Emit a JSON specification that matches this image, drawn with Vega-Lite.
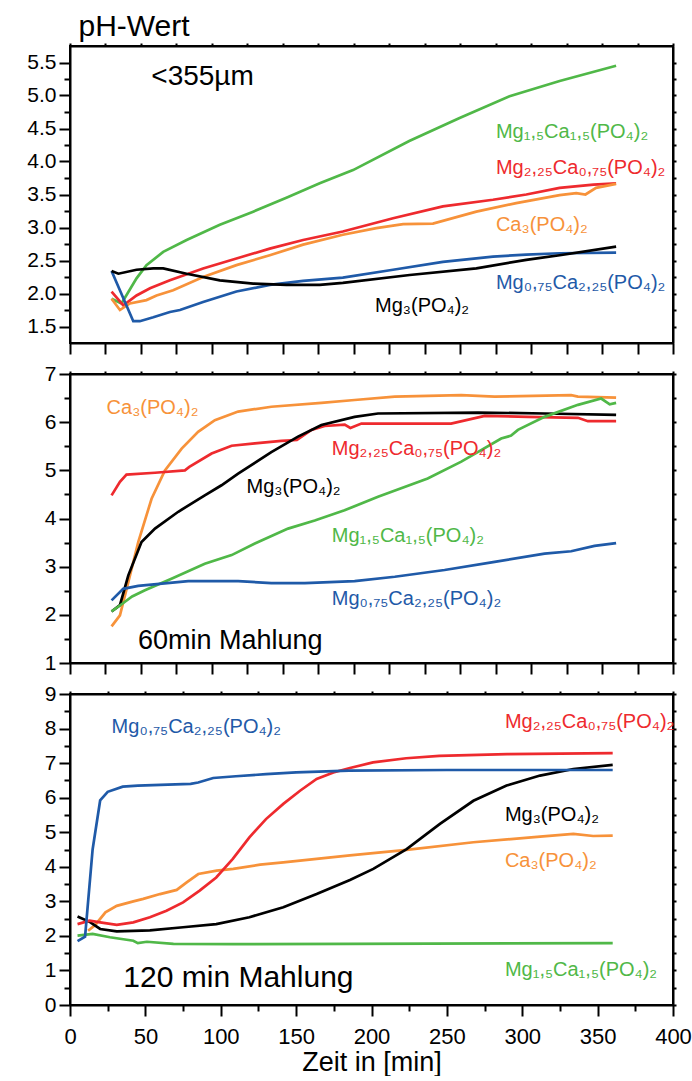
{
  "$schema": "https://vega.github.io/schema/vega-lite/v6.json",
  "padding": {"left": 25, "top": 10, "right": 10, "bottom": 0},
  "background": "white",
  "config": {
    "font": "Liberation Sans",
    "view": {"stroke": "#000", "strokeWidth": 2},
    "axis": {"domainColor": "#000", "domainWidth": 2, "tickColor": "#000", "tickWidth": 2, "labelColor": "#000", "labelFontSize": 21, "labelFont": "Liberation Sans", "grid": false, "titleColor": "#000", "titleFontWeight": "normal", "titleFont": "Liberation Sans", "labelOverlap": false, "labelFlush": false, "labelBound": false},
    "text": {"font": "Liberation Sans"}
  },
  "datasets": {
    "top": [
      {"s":"G","t":4.3,"pH":1.92},{"s":"G","t":11.3,"pH":1.85},{"s":"G","t":21.9,"pH":2.23},{"s":"G","t":28.9,"pH":2.43},{"s":"G","t":40.7,"pH":2.63},{"s":"G","t":57.2,"pH":2.81},{"s":"G","t":80.6,"pH":3.04},{"s":"G","t":104.1,"pH":3.24},{"s":"G","t":127.5,"pH":3.45},{"s":"G","t":151.0,"pH":3.67},{"s":"G","t":174.5,"pH":3.87},{"s":"G","t":214.1,"pH":4.31},{"s":"G","t":249.6,"pH":4.66},{"s":"G","t":284.8,"pH":4.99},{"s":"G","t":320.1,"pH":5.22},{"s":"G","t":359.9,"pH":5.45},
      {"s":"R","t":4.3,"pH":2.03},{"s":"R","t":12.6,"pH":1.82},{"s":"R","t":21.9,"pH":1.97},{"s":"R","t":31.4,"pH":2.08},{"s":"R","t":45.4,"pH":2.20},{"s":"R","t":68.8,"pH":2.38},{"s":"R","t":92.3,"pH":2.53},{"s":"R","t":115.8,"pH":2.68},{"s":"R","t":139.3,"pH":2.81},{"s":"R","t":167.3,"pH":2.94},{"s":"R","t":202.7,"pH":3.14},{"s":"R","t":237.8,"pH":3.32},{"s":"R","t":273.1,"pH":3.42},{"s":"R","t":296.6,"pH":3.50},{"s":"R","t":320.1,"pH":3.60},{"s":"R","t":344.0,"pH":3.65},{"s":"R","t":359.9,"pH":3.67},
      {"s":"O","t":4.3,"pH":1.92},{"s":"O","t":10.2,"pH":1.75},{"s":"O","t":17.2,"pH":1.85},{"s":"O","t":28.9,"pH":1.90},{"s":"O","t":36.0,"pH":1.97},{"s":"O","t":47.7,"pH":2.05},{"s":"O","t":68.8,"pH":2.25},{"s":"O","t":92.3,"pH":2.43},{"s":"O","t":115.8,"pH":2.58},{"s":"O","t":139.3,"pH":2.74},{"s":"O","t":167.3,"pH":2.89},{"s":"O","t":190.9,"pH":2.99},{"s":"O","t":209.8,"pH":3.05},{"s":"O","t":230.8,"pH":3.06},{"s":"O","t":261.4,"pH":3.24},{"s":"O","t":289.5,"pH":3.37},{"s":"O","t":320.1,"pH":3.49},{"s":"O","t":331.8,"pH":3.52},{"s":"O","t":338.3,"pH":3.50},{"s":"O","t":345.8,"pH":3.60},{"s":"O","t":359.9,"pH":3.66},
      {"s":"B","t":4.3,"pH":2.34},{"s":"B","t":19.6,"pH":1.58},{"s":"B","t":24.2,"pH":1.58},{"s":"B","t":33.7,"pH":1.64},{"s":"B","t":45.4,"pH":1.72},{"s":"B","t":52.5,"pH":1.75},{"s":"B","t":68.8,"pH":1.87},{"s":"B","t":92.3,"pH":2.03},{"s":"B","t":115.8,"pH":2.13},{"s":"B","t":139.3,"pH":2.19},{"s":"B","t":167.3,"pH":2.24},{"s":"B","t":202.7,"pH":2.36},{"s":"B","t":237.8,"pH":2.48},{"s":"B","t":273.1,"pH":2.56},{"s":"B","t":296.6,"pH":2.59},{"s":"B","t":320.1,"pH":2.61},{"s":"B","t":359.9,"pH":2.62},
      {"s":"K","t":4.3,"pH":2.34},{"s":"K","t":9.1,"pH":2.30},{"s":"K","t":21.9,"pH":2.36},{"s":"K","t":33.7,"pH":2.38},{"s":"K","t":40.7,"pH":2.38},{"s":"K","t":57.2,"pH":2.30},{"s":"K","t":80.6,"pH":2.20},{"s":"K","t":104.1,"pH":2.15},{"s":"K","t":127.5,"pH":2.13},{"s":"K","t":151.0,"pH":2.13},{"s":"K","t":167.3,"pH":2.16},{"s":"K","t":214.4,"pH":2.28},{"s":"K","t":261.4,"pH":2.38},{"s":"K","t":296.6,"pH":2.51},{"s":"K","t":320.1,"pH":2.58},{"s":"K","t":359.9,"pH":2.71}
    ],
    "mid": [
      {"s":"O","t":4.3,"pH":1.76},{"s":"O","t":10.2,"pH":1.99},{"s":"O","t":16.1,"pH":2.68},{"s":"O","t":23.1,"pH":3.51},{"s":"O","t":32.5,"pH":4.41},{"s":"O","t":41.9,"pH":5.00},{"s":"O","t":53.7,"pH":5.45},{"s":"O","t":65.3,"pH":5.80},{"s":"O","t":77.1,"pH":6.04},{"s":"O","t":93.5,"pH":6.22},{"s":"O","t":116.9,"pH":6.32},{"s":"O","t":152.2,"pH":6.40},{"s":"O","t":175.6,"pH":6.46},{"s":"O","t":203.9,"pH":6.53},{"s":"O","t":250.8,"pH":6.56},{"s":"O","t":274.3,"pH":6.53},{"s":"O","t":328.2,"pH":6.56},{"s":"O","t":333.0,"pH":6.53},{"s":"O","t":359.9,"pH":6.51},
      {"s":"R","t":4.3,"pH":4.48},{"s":"R","t":10.2,"pH":4.76},{"s":"R","t":14.8,"pH":4.91},{"s":"R","t":34.9,"pH":4.95},{"s":"R","t":56.0,"pH":5.00},{"s":"R","t":59.1,"pH":5.07},{"s":"R","t":74.8,"pH":5.35},{"s":"R","t":88.9,"pH":5.51},{"s":"R","t":105.3,"pH":5.56},{"s":"R","t":124.0,"pH":5.61},{"s":"R","t":134.9,"pH":5.63},{"s":"R","t":145.2,"pH":5.84},{"s":"R","t":154.5,"pH":5.92},{"s":"R","t":168.6,"pH":5.95},{"s":"R","t":172.6,"pH":5.88},{"s":"R","t":180.4,"pH":5.97},{"s":"R","t":243.6,"pH":5.97},{"s":"R","t":267.3,"pH":6.13},{"s":"R","t":297.8,"pH":6.11},{"s":"R","t":333.0,"pH":6.09},{"s":"R","t":340.0,"pH":6.02},{"s":"R","t":359.9,"pH":6.02},
      {"s":"K","t":4.3,"pH":2.07},{"s":"K","t":10.2,"pH":2.2},{"s":"K","t":16.1,"pH":2.82},{"s":"K","t":25.4,"pH":3.51},{"s":"K","t":34.9,"pH":3.79},{"s":"K","t":51.3,"pH":4.14},{"s":"K","t":70.0,"pH":4.48},{"s":"K","t":81.8,"pH":4.69},{"s":"K","t":93.5,"pH":4.93},{"s":"K","t":116.9,"pH":5.38},{"s":"K","t":135.7,"pH":5.70},{"s":"K","t":152.2,"pH":5.94},{"s":"K","t":175.6,"pH":6.11},{"s":"K","t":192.1,"pH":6.18},{"s":"K","t":262.6,"pH":6.20},{"s":"K","t":309.5,"pH":6.18},{"s":"K","t":359.9,"pH":6.15},
      {"s":"G","t":4.3,"pH":2.07},{"s":"G","t":11.4,"pH":2.22},{"s":"G","t":18.8,"pH":2.38},{"s":"G","t":27.8,"pH":2.51},{"s":"G","t":46.5,"pH":2.75},{"s":"G","t":70.0,"pH":3.06},{"s":"G","t":88.9,"pH":3.24},{"s":"G","t":105.3,"pH":3.48},{"s":"G","t":128.7,"pH":3.79},{"s":"G","t":147.5,"pH":3.96},{"s":"G","t":168.5,"pH":4.17},{"s":"G","t":192.1,"pH":4.45},{"s":"G","t":227.1,"pH":4.83},{"s":"G","t":250.8,"pH":5.18},{"s":"G","t":278.9,"pH":5.66},{"s":"G","t":285.9,"pH":5.72},{"s":"G","t":290.7,"pH":5.84},{"s":"G","t":309.5,"pH":6.11},{"s":"G","t":333.0,"pH":6.36},{"s":"G","t":349.4,"pH":6.49},{"s":"G","t":355.4,"pH":6.37},{"s":"G","t":359.9,"pH":6.40},
      {"s":"B","t":4.3,"pH":2.30},{"s":"B","t":12.5,"pH":2.54},{"s":"B","t":23.1,"pH":2.60},{"s":"B","t":58.3,"pH":2.70},{"s":"B","t":93.5,"pH":2.70},{"s":"B","t":116.9,"pH":2.66},{"s":"B","t":140.5,"pH":2.66},{"s":"B","t":175.6,"pH":2.70},{"s":"B","t":203.9,"pH":2.79},{"s":"B","t":239.0,"pH":2.93},{"s":"B","t":274.3,"pH":3.10},{"s":"B","t":309.5,"pH":3.27},{"s":"B","t":328.2,"pH":3.32},{"s":"B","t":344.7,"pH":3.43},{"s":"B","t":359.9,"pH":3.49}
    ],
    "bot": [
      {"s":"G","t":5,"pH":2.01},{"s":"G","t":15,"pH":2.06},{"s":"G","t":26.5,"pH":1.96},{"s":"G","t":42,"pH":1.86},{"s":"G","t":45,"pH":1.79},{"s":"G","t":51,"pH":1.83},{"s":"G","t":68.6,"pH":1.77},{"s":"G","t":108,"pH":1.76},{"s":"G","t":186,"pH":1.77},{"s":"G","t":360,"pH":1.79},
      {"s":"O","t":12,"pH":2.15},{"s":"O","t":16.6,"pH":2.31},{"s":"O","t":23.5,"pH":2.68},{"s":"O","t":31,"pH":2.87},{"s":"O","t":42,"pH":3.00},{"s":"O","t":48.6,"pH":3.07},{"s":"O","t":59.7,"pH":3.21},{"s":"O","t":70.8,"pH":3.33},{"s":"O","t":77.4,"pH":3.55},{"s":"O","t":85.1,"pH":3.79},{"s":"O","t":97.3,"pH":3.89},{"s":"O","t":108.3,"pH":3.94},{"s":"O","t":126.1,"pH":4.06},{"s":"O","t":141.5,"pH":4.13},{"s":"O","t":163.6,"pH":4.23},{"s":"O","t":185.7,"pH":4.33},{"s":"O","t":223.3,"pH":4.49},{"s":"O","t":267.6,"pH":4.71},{"s":"O","t":311.8,"pH":4.87},{"s":"O","t":333.9,"pH":4.95},{"s":"O","t":347,"pH":4.89},{"s":"O","t":360,"pH":4.90},
      {"s":"K","t":5,"pH":2.56},{"s":"K","t":13.3,"pH":2.40},{"s":"K","t":20,"pH":2.20},{"s":"K","t":31,"pH":2.13},{"s":"K","t":53,"pH":2.16},{"s":"K","t":75,"pH":2.25},{"s":"K","t":97,"pH":2.34},{"s":"K","t":119,"pH":2.54},{"s":"K","t":141.5,"pH":2.83},{"s":"K","t":163.6,"pH":3.21},{"s":"K","t":185.7,"pH":3.62},{"s":"K","t":201.2,"pH":3.94},{"s":"K","t":223.3,"pH":4.51},{"s":"K","t":245.4,"pH":5.24},{"s":"K","t":267.6,"pH":5.91},{"s":"K","t":289.6,"pH":6.35},{"s":"K","t":311.8,"pH":6.64},{"s":"K","t":333.9,"pH":6.83},{"s":"K","t":360,"pH":6.95},
      {"s":"R","t":5,"pH":2.34},{"s":"R","t":13,"pH":2.44},{"s":"R","t":20,"pH":2.39},{"s":"R","t":31,"pH":2.32},{"s":"R","t":42,"pH":2.39},{"s":"R","t":53,"pH":2.54},{"s":"R","t":64,"pH":2.73},{"s":"R","t":75,"pH":2.97},{"s":"R","t":86,"pH":3.31},{"s":"R","t":97,"pH":3.69},{"s":"R","t":108,"pH":4.23},{"s":"R","t":119,"pH":4.85},{"s":"R","t":130,"pH":5.38},{"s":"R","t":141.5,"pH":5.82},{"s":"R","t":152.6,"pH":6.20},{"s":"R","t":163.6,"pH":6.54},{"s":"R","t":174.7,"pH":6.73},{"s":"R","t":185.7,"pH":6.86},{"s":"R","t":201,"pH":7.02},{"s":"R","t":223,"pH":7.14},{"s":"R","t":245,"pH":7.21},{"s":"R","t":290,"pH":7.26},{"s":"R","t":360,"pH":7.29},
      {"s":"B","t":5,"pH":1.85},{"s":"B","t":10,"pH":1.98},{"s":"B","t":15,"pH":4.5},{"s":"B","t":20,"pH":5.92},{"s":"B","t":25,"pH":6.17},{"s":"B","t":35,"pH":6.32},{"s":"B","t":45,"pH":6.35},{"s":"B","t":65,"pH":6.38},{"s":"B","t":80,"pH":6.40},{"s":"B","t":85,"pH":6.44},{"s":"B","t":95,"pH":6.57},{"s":"B","t":110,"pH":6.62},{"s":"B","t":130,"pH":6.68},{"s":"B","t":150,"pH":6.73},{"s":"B","t":185,"pH":6.78},{"s":"B","t":250,"pH":6.80},{"s":"B","t":360,"pH":6.80}
    ],
    "labTop": [
      {"s":"G","t":275.2,"pH":4.35,"label":"Mg₁,₅Ca₁,₅(PO₄)₂"},
      {"s":"R","t":275.2,"pH":3.81,"label":"Mg₂,₂₅Ca₀,₇₅(PO₄)₂"},
      {"s":"O","t":275.2,"pH":2.94,"label":"Ca₃(PO₄)₂"},
      {"s":"B","t":275.2,"pH":2.07,"label":"Mg₀,₇₅Ca₂,₂₅(PO₄)₂"},
      {"s":"K","t":190,"pH":1.72,"label":"Mg₃(PO₄)₂"}
    ],
    "labMid": [
      {"s":"O","t":0.8,"pH":6.16,"label":"Ca₃(PO₄)₂"},
      {"s":"R","t":159.5,"pH":5.32,"label":"Mg₂,₂₅Ca₀,₇₅(PO₄)₂"},
      {"s":"K","t":99.4,"pH":4.52,"label":"Mg₃(PO₄)₂"},
      {"s":"G","t":159.5,"pH":3.51,"label":"Mg₁,₅Ca₁,₅(PO₄)₂"},
      {"s":"B","t":159.5,"pH":2.2,"label":"Mg₀,₇₅Ca₂,₂₅(PO₄)₂"}
    ],
    "labBot": [
      {"s":"B","t":27.6,"pH":7.86,"label":"Mg₀,₇₅Ca₂,₂₅(PO₄)₂"},
      {"s":"R","t":288.5,"pH":8.03,"label":"Mg₂,₂₅Ca₀,₇₅(PO₄)₂"},
      {"s":"K","t":288.5,"pH":5.33,"label":"Mg₃(PO₄)₂"},
      {"s":"O","t":288.5,"pH":3.98,"label":"Ca₃(PO₄)₂"},
      {"s":"G","t":288.5,"pH":0.85,"label":"Mg₁,₅Ca₁,₅(PO₄)₂"}
    ]
  },
  "spacing": 31,
  "bounds": "flush",
  "resolve": {"scale": {"x": "independent", "y": "independent"}},
  "vconcat": [
    {
      "width": 603, "height": 297,
      "layer": [
        {
          "data": {"name": "top"},
          "mark": {"type": "line", "strokeWidth": 2.7},
          "encoding": {
            "x": {"field": "t", "type": "quantitative", "scale": {"domain": [-25, 400], "nice": false, "zero": false},
                  "axis": {"orient": "bottom", "title": null, "labels": false, "tickSize": 11, "values": [-25,0,25,50,75,100,125,150,175,200,225,250,275,300,325,350,375,400]}},
            "y": {"field": "pH", "type": "quantitative", "scale": {"domain": [1.25, 5.75], "nice": false, "zero": false},
                  "axis": {"orient": "left", "values": [1.5,1.75,2,2.25,2.5,2.75,3,3.25,3.5,3.75,4,4.25,4.5,4.75,5,5.25,5.5],
                           "tickSize": {"condition": {"test": "abs(datum.value*2-round(datum.value*2))<0.01", "value": 11}, "value": 6},
                           "labelExpr": "abs(datum.value*2-round(datum.value*2))<0.01 ? format(datum.value, '.1f') : ''",
                           "labelPadding": 3,
                           "title": "pH-Wert", "titleAngle": 0, "titleAlign": "left", "titleBaseline": "alphabetic", "titleX": 8, "titleY": -11, "titleFontSize": 30}},
            "color": {"field": "s", "type": "nominal", "legend": null,
                      "scale": {"domain": ["G","R","O","B","K"], "range": ["#50B848","#EE2A2E","#F7923A","#1F5AA8","#000000"]}}
          }
        },
        {
          "data": {"name": "labTop"},
          "mark": {"type": "text", "align": "left", "baseline": "alphabetic", "fontSize": 20},
          "encoding": {
            "x": {"field": "t", "type": "quantitative", "axis": {"orient": "top", "title": null, "labels": false, "tickSize": 3, "values": [-25,0,25,50,75,100,125,150,175,200,225,250,275,300,325,350,375,400]}},
            "y": {"field": "pH", "type": "quantitative", "axis": {"orient": "right", "title": null, "labels": false, "tickSize": 3, "values": [1.5,1.75,2,2.25,2.5,2.75,3,3.25,3.5,3.75,4,4.25,4.5,4.75,5,5.25,5.5]}},
            "text": {"field": "label"},
            "color": {"field": "s", "type": "nominal", "legend": null}
          }
        },
        {
          "data": {"values": [{"t": 32.3, "pH": 5.16, "txt": "<355µm"}]},
          "mark": {"type": "text", "align": "left", "baseline": "alphabetic", "fontSize": 28, "color": "#000"},
          "encoding": {
            "x": {"field": "t", "type": "quantitative", "axis": null},
            "y": {"field": "pH", "type": "quantitative", "axis": null},
            "text": {"field": "txt"}
          }
        }
      ],
      "resolve": {"axis": {"x": "independent", "y": "independent"}}
    },
    {
      "width": 603, "height": 289,
      "layer": [
        {
          "data": {"name": "mid"},
          "mark": {"type": "line", "strokeWidth": 2.7},
          "encoding": {
            "x": {"field": "t", "type": "quantitative", "scale": {"domain": [-25, 400], "nice": false, "zero": false},
                  "axis": {"orient": "bottom", "title": null, "labels": false, "tickSize": 11, "values": [-25,0,25,50,75,100,125,150,175,200,225,250,275,300,325,350,375,400]}},
            "y": {"field": "pH", "type": "quantitative", "scale": {"domain": [1, 7], "nice": false, "zero": false},
                  "axis": {"orient": "left", "title": null, "values": [1,1.5,2,2.5,3,3.5,4,4.5,5,5.5,6,6.5,7],
                           "tickSize": {"condition": {"test": "datum.value % 1 === 0", "value": 11}, "value": 6},
                           "labelExpr": "datum.value % 1 === 0 ? format(datum.value, 'd') : ''",
                           "labelPadding": 3}},
            "color": {"field": "s", "type": "nominal", "legend": null,
                      "scale": {"domain": ["G","R","O","B","K"], "range": ["#50B848","#EE2A2E","#F7923A","#1F5AA8","#000000"]}}
          }
        },
        {
          "data": {"name": "labMid"},
          "mark": {"type": "text", "align": "left", "baseline": "alphabetic", "fontSize": 20},
          "encoding": {
            "x": {"field": "t", "type": "quantitative", "axis": {"orient": "top", "title": null, "labels": false, "tickSize": 3, "values": [-25,0,25,50,75,100,125,150,175,200,225,250,275,300,325,350,375,400]}},
            "y": {"field": "pH", "type": "quantitative", "axis": {"orient": "right", "title": null, "labels": false, "tickSize": 3, "values": [1,1.5,2,2.5,3,3.5,4,4.5,5,5.5,6,6.5,7]}},
            "text": {"field": "label"},
            "color": {"field": "s", "type": "nominal", "legend": null}
          }
        },
        {
          "data": {"values": [{"t": 22.9, "pH": 1.30, "txt": "60min Mahlung"}]},
          "mark": {"type": "text", "align": "left", "baseline": "alphabetic", "fontSize": 27, "color": "#000"},
          "encoding": {
            "x": {"field": "t", "type": "quantitative", "axis": null},
            "y": {"field": "pH", "type": "quantitative", "axis": null},
            "text": {"field": "txt"}
          }
        }
      ],
      "resolve": {"axis": {"x": "independent", "y": "independent"}}
    },
    {
      "width": 603, "height": 311,
      "layer": [
        {
          "data": {"name": "bot"},
          "mark": {"type": "line", "strokeWidth": 2.7},
          "encoding": {
            "x": {"field": "t", "type": "quantitative", "scale": {"domain": [0, 400], "nice": false, "zero": false},
                  "axis": {"orient": "bottom", "title": "Zeit in [min]", "titleFontSize": 27, "titlePadding": 2, "labelFontSize": 22, "labelPadding": 10,
                           "values": [0,25,50,75,100,125,150,175,200,225,250,275,300,325,350,375,400],
                           "tickSize": {"condition": {"test": "datum.value % 50 === 0", "value": 11}, "value": 6},
                           "labelExpr": "datum.value % 50 === 0 ? datum.label : ''"}},
            "y": {"field": "pH", "type": "quantitative", "scale": {"domain": [0, 9], "nice": false, "zero": false},
                  "axis": {"orient": "left", "title": null, "values": [0,0.5,1,1.5,2,2.5,3,3.5,4,4.5,5,5.5,6,6.5,7,7.5,8,8.5,9],
                           "tickSize": {"condition": {"test": "datum.value % 1 === 0", "value": 11}, "value": 6},
                           "labelExpr": "datum.value % 1 === 0 ? format(datum.value, 'd') : ''",
                           "labelPadding": 3}},
            "color": {"field": "s", "type": "nominal", "legend": null,
                      "scale": {"domain": ["G","R","O","B","K"], "range": ["#50B848","#EE2A2E","#F7923A","#1F5AA8","#000000"]}}
          }
        },
        {
          "data": {"name": "labBot"},
          "mark": {"type": "text", "align": "left", "baseline": "alphabetic", "fontSize": 20},
          "encoding": {
            "x": {"field": "t", "type": "quantitative", "axis": {"orient": "top", "title": null, "labels": false, "tickSize": 3, "values": [0,25,50,75,100,125,150,175,200,225,250,275,300,325,350,375,400]}},
            "y": {"field": "pH", "type": "quantitative", "axis": {"orient": "right", "title": null, "labels": false, "tickSize": 3, "values": [0,0.5,1,1.5,2,2.5,3,3.5,4,4.5,5,5.5,6,6.5,7,7.5,8,8.5,9]}},
            "text": {"field": "label"},
            "color": {"field": "s", "type": "nominal", "legend": null}
          }
        },
        {
          "data": {"values": [{"t": 35.4, "pH": 0.51, "txt": "120 min Mahlung"}]},
          "mark": {"type": "text", "align": "left", "baseline": "alphabetic", "fontSize": 30, "color": "#000"},
          "encoding": {
            "x": {"field": "t", "type": "quantitative", "axis": null},
            "y": {"field": "pH", "type": "quantitative", "axis": null},
            "text": {"field": "txt"}
          }
        }
      ],
      "resolve": {"axis": {"x": "independent", "y": "independent"}}
    }
  ]
}
